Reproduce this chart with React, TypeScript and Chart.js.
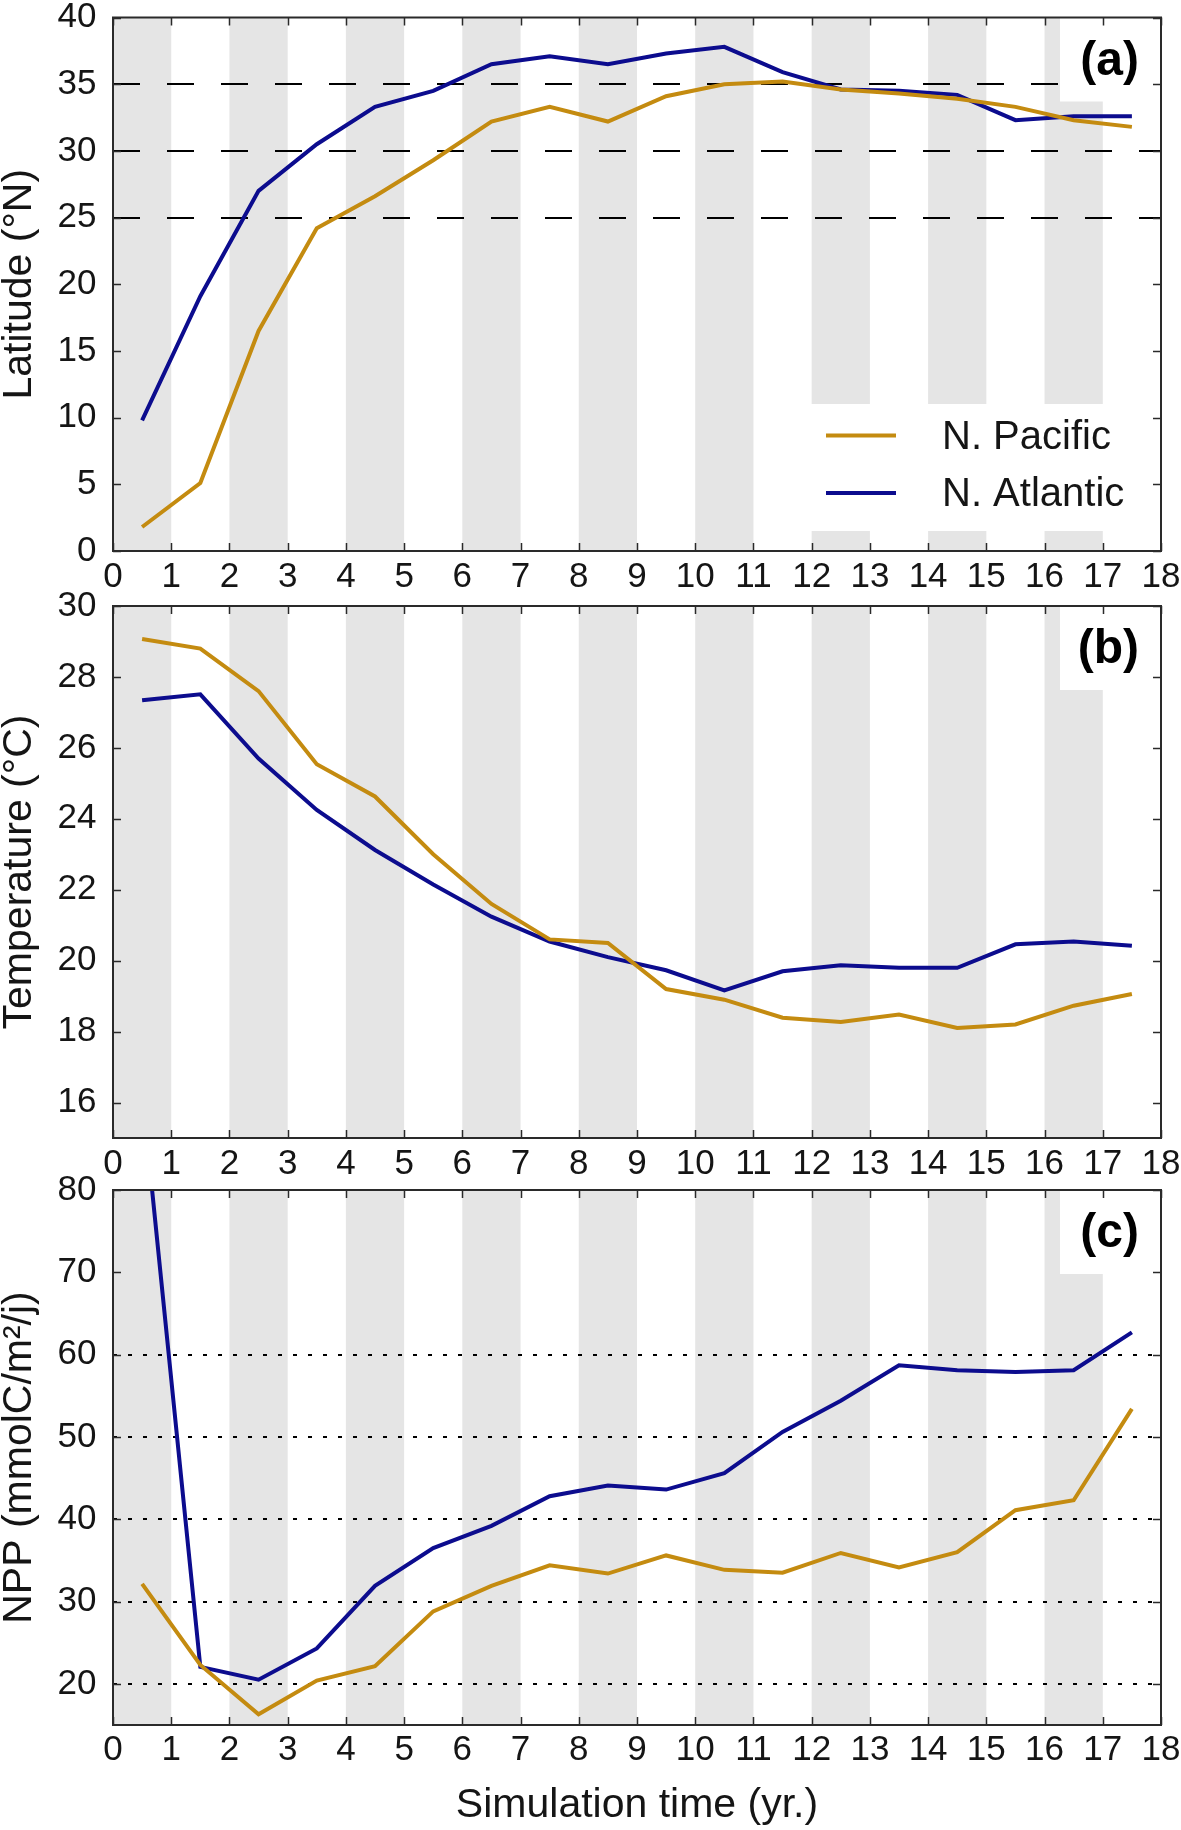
import React, { useEffect, useRef } from 'react';
import { Chart, registerables } from 'chart.js';

Chart.register(...registerables);

// ---------------- data ----------------
const years = [0.5, 1.5, 2.5, 3.5, 4.5, 5.5, 6.5, 7.5, 8.5, 9.5, 10.5, 11.5, 12.5, 13.5, 14.5, 15.5, 16.5, 17.5];
const seriesNames = ['N. Pacific', 'N. Atlantic'];

const latPacific = [1.8, 5.1, 16.5, 24.2, 26.6, 29.3, 32.2, 33.3, 32.2, 34.1, 35.0, 35.2, 34.6, 34.3, 33.9, 33.3, 32.3, 31.8];
const latAtlantic = [9.8, 19.1, 27.0, 30.5, 33.3, 34.5, 36.5, 37.1, 36.5, 37.3, 37.8, 35.9, 34.6, 34.5, 34.2, 32.3, 32.6, 32.6];

const tempPacific = [29.07, 28.8, 27.6, 25.54, 24.63, 23.0, 21.6, 20.6, 20.5, 19.2, 18.9, 18.39, 18.27, 18.48, 18.1, 18.2, 18.73, 19.06];
const tempAtlantic = [27.34, 27.51, 25.7, 24.25, 23.12, 22.15, 21.24, 20.54, 20.1, 19.73, 19.16, 19.7, 19.87, 19.8, 19.8, 20.46, 20.54, 20.42];

const nppPacific = [32.15, 22.3, 16.3, 20.4, 22.15, 28.8, 31.9, 34.4, 33.4, 35.6, 33.85, 33.5, 35.9, 34.15, 36.0, 41.1, 42.3, 53.4];
const nppAtlantic = [92, 22.05, 20.5, 24.3, 31.9, 36.5, 39.2, 42.8, 44.1, 43.6, 45.6, 50.6, 54.4, 58.7, 58.1, 57.9, 58.1, 62.7];

const xTicks = [0, 1, 2, 3, 4, 5, 6, 7, 8, 9, 10, 11, 12, 13, 14, 15, 16, 17, 18];
const latTicks = [0, 5, 10, 15, 20, 25, 30, 35, 40];
const tempTicks = [16, 18, 20, 22, 24, 26, 28, 30];
const nppTicks = [20, 30, 40, 50, 60, 70, 80];
const latRefLines = [25, 30, 35];
const nppRefLines = [20, 30, 40, 50, 60];
const shadedYearStarts = [0, 2, 4, 6, 8, 10, 12, 14, 16];
const panelLabels = ['(a)', '(b)', '(c)'];
const yTitles = ['Latitude (°N)', 'Temperature (°C)', 'NPP (mmolC/m²/j)'];
const xTitle = 'Simulation time (yr.)';

// ---------------- styles ----------------
const FONT = '"Liberation Sans", Arial, Helvetica, sans-serif';
const TEXT = '#151515';
const PACIFIC_COLOR = '#c48b10';
const ATLANTIC_COLOR = '#0c0c8e';
const BAND_COLOR = '#e5e5e5';
const FRAME_COLOR = '#2a2a2a';
const W = 1181;

type Panel = {
  canvasTop: number;
  height: number;
  padTop: number;
  xAxisH: number;
  xLabelPad: number;
  yMin: number;
  yMax: number;
  yTicks: number[];
  yTitle: string;
  pacific: number[];
  atlantic: number[];
  refLines: number[];
  refDash: number[];
  label: string;
  legend: boolean;
  xTitle: string | null;
};

const panels: Panel[] = [
  {
    canvasTop: 0, height: 598, padTop: 17.5, xAxisH: 47, xLabelPad: 5,
    yMin: 0, yMax: 40, yTicks: latTicks, yTitle: yTitles[0],
    pacific: latPacific, atlantic: latAtlantic,
    refLines: latRefLines, refDash: [27, 27], label: panelLabels[0], legend: true, xTitle: null,
  },
  {
    canvasTop: 581, height: 604, padTop: 25, xAxisH: 47, xLabelPad: 5.5,
    yMin: 15, yMax: 30, yTicks: tempTicks, yTitle: yTitles[1],
    pacific: tempPacific, atlantic: tempAtlantic,
    refLines: [], refDash: [], label: panelLabels[1], legend: false, xTitle: null,
  },
  {
    canvasTop: 1165, height: 665, padTop: 25, xAxisH: 105, xLabelPad: 4,
    yMin: 15, yMax: 80, yTicks: nppTicks, yTitle: yTitles[2],
    pacific: nppPacific, atlantic: nppAtlantic,
    refLines: nppRefLines, refDash: [4, 11], label: panelLabels[2], legend: false, xTitle: xTitle,
  },
];

const LABEL_BOX_LEFT = 1060;
const LABEL_BOX_H = 84;
const LEGEND_BOX = { left: 790, top: 404, bottom: 531 };
const LEGEND_LINE = { x0: 826, x1: 896, textX: 942, rows: [435.5, 493] };

function makePlugin(p: Panel) {
  return {
    id: 'decor',
    beforeDatasetsDraw(chart: any) {
      const { ctx, chartArea: a, scales } = chart;
      const x = scales.x;
      const y = scales.y;
      ctx.save();
      ctx.fillStyle = BAND_COLOR;
      shadedYearStarts.forEach((s) => {
        const x0 = x.getPixelForValue(s);
        const x1 = x.getPixelForValue(s + 1);
        ctx.fillRect(x0, a.top, x1 - x0, a.bottom - a.top);
      });
      if (p.refLines.length) {
        ctx.strokeStyle = '#000';
        ctx.lineWidth = 2;
        ctx.setLineDash(p.refDash);
        p.refLines.forEach((v) => {
          const py = Math.round(y.getPixelForValue(v));
          ctx.beginPath();
          ctx.moveTo(a.left, py);
          ctx.lineTo(a.right, py);
          ctx.stroke();
        });
        ctx.setLineDash([]);
      }
      ctx.fillStyle = '#ffffff';
      ctx.fillRect(LABEL_BOX_LEFT, a.top, a.right - LABEL_BOX_LEFT, LABEL_BOX_H);
      if (p.legend) {
        const t = LEGEND_BOX.top - p.canvasTop;
        const b = LEGEND_BOX.bottom - p.canvasTop;
        ctx.fillRect(LEGEND_BOX.left, t, a.right - LEGEND_BOX.left, b - t);
      }
      ctx.restore();
    },
    afterDatasetsDraw(chart: any) {
      const { ctx, chartArea: a, scales } = chart;
      const x = scales.x;
      const y = scales.y;
      ctx.save();
      ctx.strokeStyle = FRAME_COLOR;
      ctx.lineWidth = 1.5;
      const TL = 8;
      xTicks.forEach((v) => {
        const px = Math.round(x.getPixelForValue(v)) + 0.5;
        ctx.beginPath();
        ctx.moveTo(px, a.top);
        ctx.lineTo(px, a.top + TL);
        ctx.moveTo(px, a.bottom);
        ctx.lineTo(px, a.bottom - TL);
        ctx.stroke();
      });
      p.yTicks.forEach((v) => {
        const py = Math.round(y.getPixelForValue(v)) + 0.5;
        ctx.beginPath();
        ctx.moveTo(a.left, py);
        ctx.lineTo(a.left + TL, py);
        ctx.moveTo(a.right, py);
        ctx.lineTo(a.right - TL, py);
        ctx.stroke();
      });
      ctx.lineWidth = 2;
      ctx.strokeRect(a.left, a.top, a.right - a.left, a.bottom - a.top);
      ctx.fillStyle = '#000';
      ctx.font = `bold 48px ${FONT}`;
      ctx.textAlign = 'right';
      ctx.textBaseline = 'alphabetic';
      ctx.fillText(p.label, a.right - 22, a.top + 57);
      if (p.legend) {
        const colors = [PACIFIC_COLOR, ATLANTIC_COLOR];
        ctx.font = `40px ${FONT}`;
        ctx.textAlign = 'left';
        ctx.textBaseline = 'middle';
        seriesNames.forEach((name, i) => {
          const ry = LEGEND_LINE.rows[i] - p.canvasTop;
          ctx.strokeStyle = colors[i];
          ctx.lineWidth = 4;
          ctx.beginPath();
          ctx.moveTo(LEGEND_LINE.x0, ry);
          ctx.lineTo(LEGEND_LINE.x1, ry);
          ctx.stroke();
          ctx.fillStyle = TEXT;
          ctx.fillText(name, LEGEND_LINE.textX, ry + 2);
        });
      }
      ctx.restore();
    },
  };
}

function PanelChart({ p }: { p: Panel }) {
  const ref = useRef<HTMLCanvasElement | null>(null);
  useEffect(() => {
    if (!ref.current) return;
    const chart = new Chart(ref.current, {
      type: 'line',
      data: {
        datasets: [
          {
            label: seriesNames[0],
            data: years.map((yr, i) => ({ x: yr, y: p.pacific[i] })),
            borderColor: PACIFIC_COLOR,
            backgroundColor: PACIFIC_COLOR,
            borderWidth: 4,
            pointRadius: 0,
            tension: 0,
            fill: false,
          },
          {
            label: seriesNames[1],
            data: years.map((yr, i) => ({ x: yr, y: p.atlantic[i] })),
            borderColor: ATLANTIC_COLOR,
            backgroundColor: ATLANTIC_COLOR,
            borderWidth: 4,
            pointRadius: 0,
            tension: 0,
            fill: false,
          },
        ],
      },
      options: {
        responsive: false,
        animation: false,
        devicePixelRatio: 1,
        layout: { padding: { top: p.padTop, left: 0, right: 20, bottom: 0 } },
        plugins: {
          legend: { display: false },
          tooltip: { enabled: false },
        },
        scales: {
          x: {
            type: 'linear',
            min: 0,
            max: 18,
            grid: { display: false, drawTicks: false },
            border: { display: false },
            afterBuildTicks: (s: any) => {
              s.ticks = xTicks.map((v) => ({ value: v }));
            },
            afterFit: (s: any) => {
              s.height = p.xAxisH;
              s.paddingLeft = 0;
              s.paddingRight = 0;
            },
            ticks: {
              autoSkip: false,
              maxRotation: 0,
              minRotation: 0,
              padding: p.xLabelPad,
              color: TEXT,
              font: { family: FONT, size: 35, lineHeight: 1.2 },
            },
            title: p.xTitle
              ? {
                  display: true,
                  text: p.xTitle,
                  color: TEXT,
                  padding: 0,
                  font: { family: FONT, size: 41, lineHeight: 1.2 },
                }
              : { display: false },
          },
          y: {
            type: 'linear',
            min: p.yMin,
            max: p.yMax,
            grid: { display: false, drawTicks: false },
            border: { display: false },
            afterBuildTicks: (s: any) => {
              s.ticks = p.yTicks.map((v) => ({ value: v }));
            },
            afterFit: (s: any) => {
              s.width = 113;
              s.paddingTop = 0;
              s.paddingBottom = 0;
            },
            ticks: {
              padding: 16.5,
              color: TEXT,
              font: { family: FONT, size: 35, lineHeight: 1 },
            },
            title: {
              display: true,
              text: p.yTitle,
              color: TEXT,
              padding: 0,
              font: { family: FONT, size: 41, lineHeight: 0.98 },
            },
          },
        },
      },
      plugins: [makePlugin(p)],
    } as any);
    return () => chart.destroy();
  }, [p]);
  return (
    <canvas
      ref={ref}
      width={W}
      height={p.height}
      style={{ position: 'absolute', left: 0, top: p.canvasTop, width: W, height: p.height }}
    />
  );
}

export default function App() {
  return (
    <div style={{ position: 'absolute', left: 0, top: 0, width: W, height: 1830, background: '#fff' }}>
      {panels.map((p, i) => (
        <PanelChart key={i} p={p} />
      ))}
    </div>
  );
}
